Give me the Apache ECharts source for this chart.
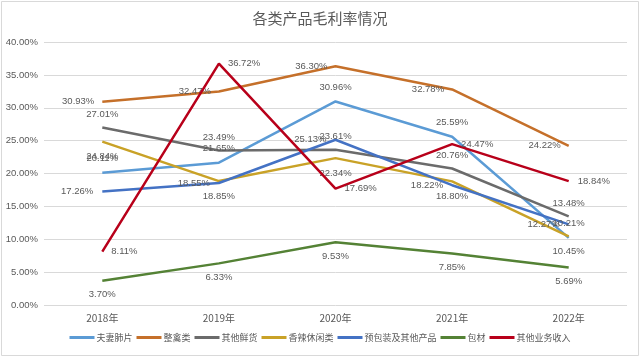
<!DOCTYPE html>
<html><head><meta charset="utf-8">
<script src="https://cdn.jsdelivr.net/npm/echarts@6/dist/echarts.min.js"></script>
<style>html,body{margin:0;padding:0;background:#fff}#c{width:640px;height:357px}</style>
</head><body><div id="c"></div>
<script>
const categories = ['2018年','2019年','2020年','2021年','2022年'];
const seriesNames = ['夫妻肺片','整禽类','其他鲜货','香辣休闲类','预包装及其他产品','包材','其他业务收入'];
const fuqi = [20.11, 21.65, 30.96, 25.59, 10.21];
const zhengqin = [30.93, 32.47, 36.30, 32.78, 24.22];
const qitaxianhuo = [27.01, 23.49, 23.61, 20.76, 13.48];
const xiangla = [24.84, 18.85, 22.34, 18.80, 10.45];
const yubaozhuang = [17.26, 18.55, 25.13, 18.22, 12.27];
const baocai = [3.70, 6.33, 9.53, 7.85, 5.69];
const qitayewu = [8.11, 36.72, 17.69, 24.47, 18.84];
const yTicks = [0, 5, 10, 15, 20, 25, 30, 35, 40];

const values = [fuqi, zhengqin, qitaxianhuo, xiangla, yubaozhuang, baocai, qitayewu];
const colors = ['#5B9BD5','#C5702A','#6B6B6B','#C9A227','#4472C4','#548235','#B8001A'];
const labelPos = ['top','left','top','bottom','left','bottom','right'];
const labelDist = [9, 8, 8, 10, 9, 9, 9];

const chart = echarts.init(document.getElementById('c'));
chart.setOption({
  animation: false,
  backgroundColor: '#fff',
  graphic: [{ type: 'rect', shape: { x: 1.5, y: 1.5, width: 637, height: 354 },
    style: { fill: 'none', stroke: '#D9D9D9', lineWidth: 1 }, silent: true }],
  title: {
    text: '各类产品毛利率情况', left: 'center', top: 6,
    textStyle: { fontFamily: 'Noto Sans CJK SC', fontWeight: 'normal', fontSize: 15, color: '#595959' }
  },
  grid: { left: 44, right: 13, top: 42, bottom: 52, containLabel: false },
  legend: {
    bottom: 10, left: 'center', itemWidth: 25, itemHeight: 3, itemGap: 4,
    icon: 'rect',
    textStyle: { fontFamily: 'Noto Sans CJK SC', fontSize: 9, color: '#595959', padding: [0,0,0,-3] },
    data: seriesNames
  },
  xAxis: {
    type: 'category', data: categories, boundaryGap: true,
    axisLine: { show: false }, axisTick: { show: false },
    axisLabel: { color: '#595959', fontSize: 10, fontFamily: 'Noto Sans CJK SC', margin: 8 }
  },
  yAxis: {
    type: 'value', min: yTicks[0], max: yTicks[yTicks.length-1], interval: 5,
    axisLine: { show: false }, axisTick: { show: false },
    splitLine: { lineStyle: { color: '#D9D9D9', width: 1 } },
    axisLabel: { color: '#595959', fontSize: 9.5, fontFamily: 'Liberation Sans', margin: 6,
      formatter: v => v.toFixed(2) + '%' }
  },
  series: values.map((arr, i) => ({
    name: seriesNames[i], type: 'line', data: arr,
    symbol: 'circle', symbolSize: 0.01, showSymbol: true,
    lineStyle: { color: colors[i], width: 2.5 },
    itemStyle: { color: colors[i] },
    z: 2 + (i === 6 ? 5 : 0),
    labelLayout: { hideOverlap: false },
    label: {
      show: true, position: labelPos[i], distance: labelDist[i],
      color: '#595959', fontSize: 9.5, fontFamily: 'Liberation Sans',
      formatter: p => p.value.toFixed(2) + '%'
    }
  }))
});
</script></body></html>
